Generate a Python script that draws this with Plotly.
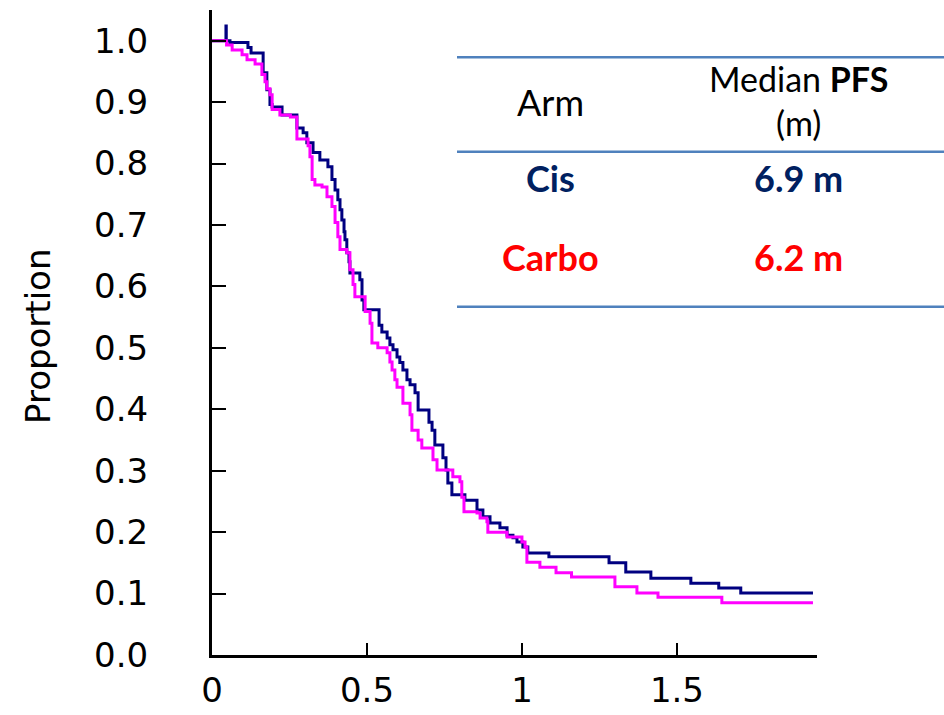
import plotly.graph_objects as go

# Kaplan-Meier style step data (time in years, proportion)
cis_time = [0, 0.045, 0.046, 0.058, 0.116, 0.126, 0.165, 0.177, 0.187, 0.194, 0.226, 0.274,
            0.294, 0.306, 0.326, 0.348, 0.374, 0.387, 0.397, 0.406, 0.413, 0.419, 0.426,
            0.429, 0.435, 0.442, 0.445, 0.477, 0.484, 0.490, 0.539, 0.548, 0.565, 0.574,
            0.584, 0.597, 0.606, 0.616, 0.629, 0.639, 0.655, 0.665, 0.700, 0.710, 0.719,
            0.745, 0.755, 0.761, 0.774, 0.816, 0.855, 0.874, 0.897, 0.929, 0.952, 0.971,
            0.984, 1.003, 1.019, 1.087, 1.281, 1.335, 1.416, 1.545, 1.635, 1.706, 1.939]
cis_surv = [1.0, 1.024, 1.0, 0.997, 0.989, 0.980, 0.948, 0.920, 0.896, 0.892, 0.879, 0.858,
            0.850, 0.834, 0.818, 0.806, 0.795, 0.774, 0.757, 0.741, 0.725, 0.708, 0.689,
            0.676, 0.655, 0.640, 0.622, 0.611, 0.578, 0.562, 0.537, 0.526, 0.516, 0.505,
            0.497, 0.485, 0.476, 0.464, 0.448, 0.440, 0.427, 0.399, 0.379, 0.366, 0.342,
            0.321, 0.301, 0.280, 0.261, 0.252, 0.236, 0.225, 0.215, 0.207, 0.195, 0.191,
            0.184, 0.176, 0.166, 0.160, 0.150, 0.135, 0.125, 0.117, 0.109, 0.101, 0.101]

carbo_time = [0, 0.047, 0.065, 0.097, 0.113, 0.139, 0.161, 0.171, 0.177, 0.187, 0.194,
              0.219, 0.253, 0.274, 0.310, 0.316, 0.323, 0.332, 0.355, 0.371, 0.387, 0.397,
              0.406, 0.413, 0.435, 0.445, 0.455, 0.461, 0.494, 0.510, 0.516, 0.535, 0.565,
              0.574, 0.581, 0.590, 0.597, 0.616, 0.639, 0.645, 0.665, 0.677, 0.713, 0.719,
              0.726, 0.777, 0.800, 0.806, 0.813, 0.855, 0.865, 0.887, 0.890, 0.952, 1.000,
              1.010, 1.016, 1.058, 1.110, 1.160, 1.300, 1.371, 1.439, 1.645, 1.939]
carbo_surv = [1.0, 0.993, 0.985, 0.977, 0.969, 0.962, 0.945, 0.933, 0.922, 0.912, 0.888,
              0.879, 0.876, 0.840, 0.829, 0.811, 0.774, 0.765, 0.762, 0.746, 0.730, 0.704,
              0.681, 0.660, 0.655, 0.627, 0.603, 0.583, 0.559, 0.540, 0.508, 0.500, 0.492,
              0.477, 0.464, 0.448, 0.436, 0.410, 0.391, 0.366, 0.350, 0.337, 0.318, 0.318,
              0.301, 0.290, 0.282, 0.257, 0.233, 0.231, 0.223, 0.217, 0.200, 0.192, 0.184,
              0.176, 0.151, 0.143, 0.134, 0.127, 0.111, 0.101, 0.094, 0.085, 0.085]

y_ticks = [0.0, 0.1, 0.2, 0.3, 0.4, 0.5, 0.6, 0.7, 0.8, 0.9, 1.0]
y_tick_labels = ["0.0", "0.1", "0.2", "0.3", "0.4", "0.5", "0.6", "0.7", "0.8", "0.9", "1.0"]
x_ticks = [0, 0.5, 1, 1.5]
x_tick_labels = ["0", "0.5", "1", "1.5"]

arms = ["Cis", "Carbo"]
medians = ["6.9 m", "6.2 m"]
arm_colors = ["#002060", "#FF0000"]

fig = go.Figure()
fig.add_trace(go.Scatter(x=cis_time, y=cis_surv, mode="lines", line_shape="hv",
                         line=dict(color="#000080", width=3), name="Cis", showlegend=False))
fig.add_trace(go.Scatter(x=carbo_time, y=carbo_surv, mode="lines", line_shape="hv",
                         line=dict(color="#FF00FF", width=3), name="Carbo", showlegend=False))

tick_font = dict(family="DejaVu Sans", size=34, color="black")
fig.update_xaxes(range=[0, 1.952], tickvals=x_ticks, ticktext=x_tick_labels,
                 ticks="inside", ticklen=12, tickwidth=2, tickcolor="black",
                 showline=True, linecolor="black", linewidth=3, showgrid=False,
                 zeroline=False, tickfont=tick_font, ticklabelstandoff=3, automargin=False)
fig.update_yaxes(range=[0, 1.05], tickvals=y_ticks, ticktext=y_tick_labels,
                 ticks="inside", ticklen=14, tickwidth=2, tickcolor="black",
                 showline=True, linecolor="black", linewidth=3, showgrid=False,
                 zeroline=False, tickfont=tick_font, ticklabelstandoff=54, automargin=False)

x0, x1 = 212, 817
yb, yt = 655, 10
W = x1 - x0
H = yb - yt

def px(x):
    return (x - x0) / W

def py(y):
    return (yb - y) / H

shapes = []
for ly in [57.3, 151.7, 306.7]:
    shapes.append(dict(type="line", xref="paper", yref="paper", x0=px(457), x1=px(944),
                       y0=py(ly), y1=py(ly), line=dict(color="#4F81BD", width=2.5)))

tfont = "Lato"
ann = [
    dict(text="Arm", x=px(550), y=py(102), font=dict(family=tfont, size=36, color="black")),
    dict(text="Median <b>PFS</b><br>(m)", x=px(798), y=py(101),
         font=dict(family=tfont, size=34, color="black")),
]
row_y = [178, 257]
for a, m, c, ry in zip(arms, medians, arm_colors, row_y):
    ann.append(dict(text=f"<b>{a}</b>", x=px(550), y=py(ry), font=dict(family=tfont, size=36, color=c)))
    ann.append(dict(text=f"<b>{m}</b>", x=px(798), y=py(ry), font=dict(family=tfont, size=36, color=c)))
ann.append(dict(text="Proportion", x=px(38), y=py(337), textangle=-90,
                font=dict(family="DejaVu Sans", size=34, color="black")))
for a in ann:
    a.update(xref="paper", yref="paper", showarrow=False, xanchor="center", yanchor="middle")

fig.update_layout(template="none", width=944, height=715,
                  margin=dict(l=x0, r=944 - x1, t=yt, b=715 - yb),
                  plot_bgcolor="white", paper_bgcolor="white",
                  shapes=shapes, annotations=ann)

fig.write_html("out.html", config={"displayModeBar": False},
               post_script="document.body.style.margin='0';document.body.style.overflow='hidden';")
